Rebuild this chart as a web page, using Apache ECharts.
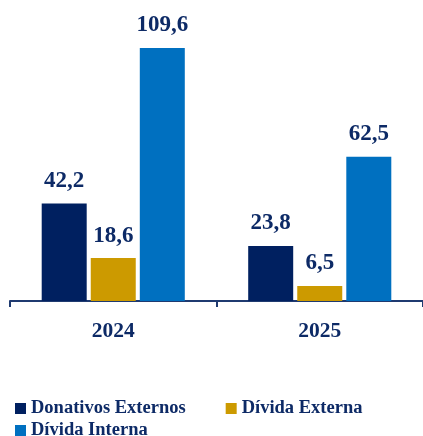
<!DOCTYPE html>
<html><head><meta charset="utf-8">
<script src="https://cdn.jsdelivr.net/npm/echarts@6/dist/echarts.min.js"></script>
<style>html,body{margin:0;padding:0;background:#fff}#c{width:423px;height:436px}</style>
</head><body><div id="c"></div>
<script>
const categories = ['2024', '2025'];
const donativosExternos = [42.2, 23.8];
const dividaExterna = [18.6, 6.5];
const dividaInterna = [109.6, 62.5];
const seriesNames = ['Donativos Externos', 'Dívida Externa', 'Dívida Interna'];
const colors = ['#002060', '#CC9A00', '#0070C0'];
const textColor = '#0D2A66';
const font = 'Liberation Serif';

const fmt = p => String(p.value).replace('.', ',');
function bar(name, data, color) {
  return {
    name, type: 'bar', data, barWidth: 45, barGap: '9%',
    itemStyle: { color },
    label: { show: true, position: 'top', distance: 11, formatter: fmt,
      fontFamily: font, fontWeight: 'bold', fontSize: 23, color: textColor }
  };
}
const chart = echarts.init(document.getElementById('c'));
const legendText = { fontFamily: font, fontWeight: 'bold', fontSize: 18.5, color: textColor };
chart.setOption({
  animation: false,
  grid: { left: 10, right: -3, top: 24, bottom: 135, containLabel: false },
  xAxis: {
    type: 'category', data: categories,
    axisLine: { lineStyle: { color: '#1F3A70', width: 2 } },
    axisTick: { show: true, length: 6, lineStyle: { color: '#1F3A70', width: 2 } },
    axisLabel: { fontFamily: font, fontWeight: 'bold', fontSize: 21.5, color: textColor, margin: 19 }
  },
  yAxis: { type: 'value', min: 0, max: 120, show: false, splitLine: { show: false } },
  legend: [
    { data: [seriesNames[0], seriesNames[1]], left: 15, top: 399, itemWidth: 11, itemHeight: 11,
      icon: 'rect', itemGap: 40, textStyle: legendText, padding: 0 },
    { data: [seriesNames[2]], left: 15, top: 421, itemWidth: 11, itemHeight: 11,
      icon: 'rect', textStyle: legendText, padding: 0 }
  ],
  series: [
    bar(seriesNames[0], donativosExternos, colors[0]),
    bar(seriesNames[1], dividaExterna, colors[1]),
    bar(seriesNames[2], dividaInterna, colors[2])
  ]
});
</script></body></html>
